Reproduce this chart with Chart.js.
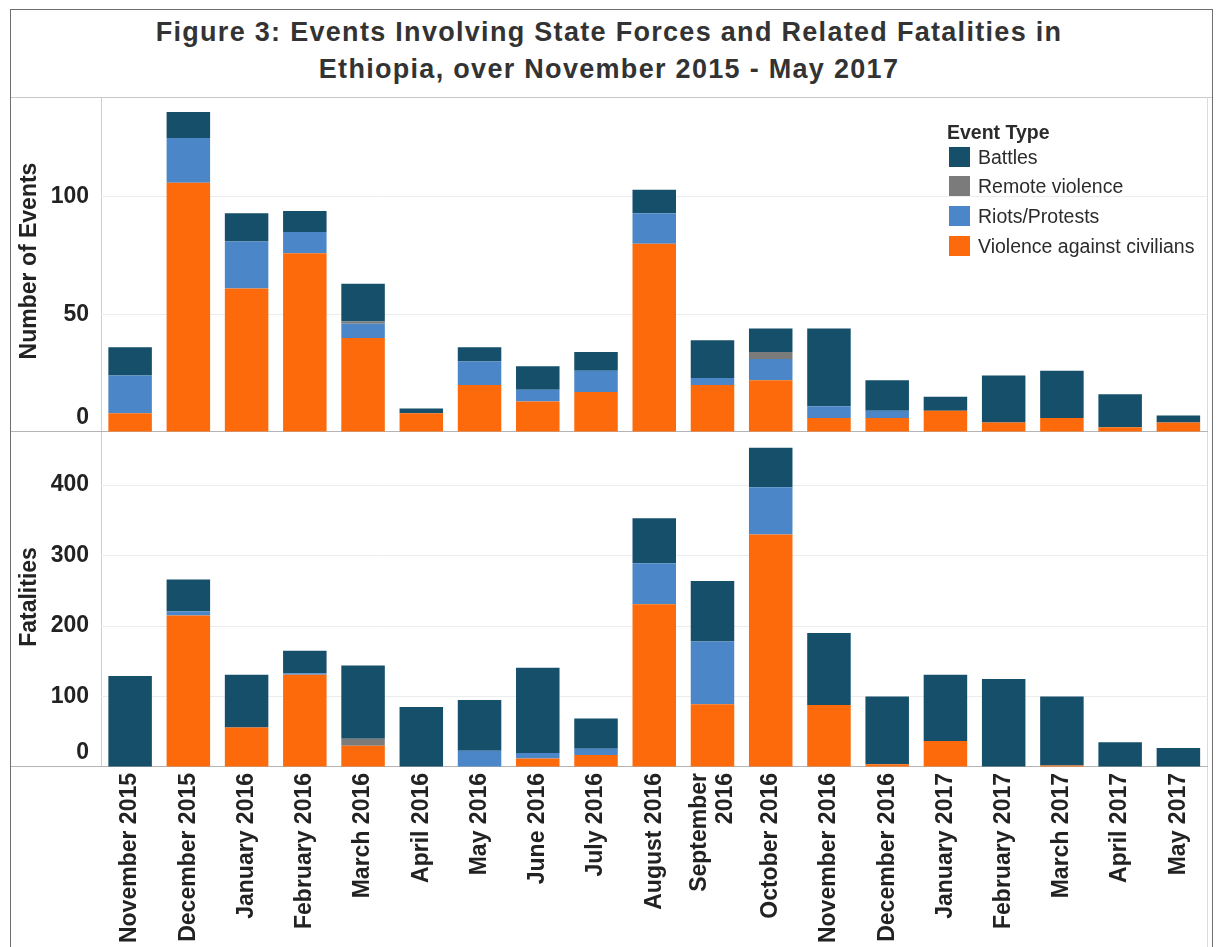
<!DOCTYPE html>
<html>
<head>
<meta charset="utf-8">
<script src="https://cdn.jsdelivr.net/npm/chart.js@4.4.0/dist/chart.umd.min.js"></script>
<style>
  body { margin:0; width:1221px; height:947px; overflow:hidden; background:#fff; position:relative;
         font-family:"Liberation Sans", Arial, sans-serif; color:#333; }
  .abs { position:absolute; }
  .title { left:8px; width:1202px; text-align:center; font-size:27px; font-weight:bold; line-height:30px;
           letter-spacing:1.3px; color:#333; white-space:nowrap; }
  .sw { position:absolute; width:21px; height:20px; left:949px; }
  .lt { position:absolute; left:978px; font-size:19.5px; line-height:22px; color:#2b2b2b; white-space:nowrap; }
  canvas { position:absolute; left:0; }
</style>
</head>
<body>

<!-- frame -->
<div class="abs" style="left:10px;top:9px;width:1203px;height:960px;border:1.5px solid #6e6e6e;box-sizing:border-box;"></div>
<div class="abs" style="left:11px;top:97px;width:1201px;height:1px;background:#c8c8c8;"></div>
<div class="abs" style="left:1207px;top:97px;width:1px;height:850px;background:#dadada;"></div>
<div class="abs" style="left:101px;top:97px;width:1px;height:670px;background:#cfcfcf;"></div>
<div class="abs" style="left:11px;top:431px;width:1197px;height:1px;background:#b4b4b4;"></div>
<div class="abs" style="left:11px;top:766px;width:1197px;height:1px;background:#b4b4b4;"></div>

<div class="abs title" style="top:17px;">Figure 3: Events Involving State Forces and Related Fatalities in</div>
<div class="abs title" style="top:54px;">Ethiopia, over November 2015 - May 2017</div>

<canvas id="eventsChart" width="1221" height="335" style="top:97px;"></canvas>
<canvas id="fatalChart" width="1221" height="515" style="top:432px;"></canvas>

<div id="legend"></div>

<script>
var months = ['November 2015','December 2015','January 2016','February 2016','March 2016','April 2016',
  'May 2016','June 2016','July 2016','August 2016',['September','2016'],'October 2016','November 2016',
  'December 2016','January 2017','February 2017','March 2017','April 2017','May 2017'];

var seriesNames = ['Violence against civilians','Riots/Protests','Remote violence','Battles'];
var seriesColors = ['#fd6a0b','#4b87c8','#7b7b7b','#154f6a'];

// number of events
var eventsCivilians = [8,106,61,76,40,8,20,13,17,80,20,22,6,6,9,4,6,2,4];
var eventsRiots     = [16,19,20,9,6,0,10,5,9,13,3,9,5,3,0,0,0,0,0];
var eventsRemote    = [0,0,0,0,1,0,0,0,0,0,0,3,0,0,0,0,0,0,0];
var eventsBattles   = [12,11,12,9,16,2,6,10,8,10,16,10,33,13,6,20,20,14,3];

// fatalities
var fatalCivilians = [0,215,56,131,30,0,0,12,17,231,89,330,88,4,37,0,2,0,0];
var fatalRiots     = [0,6,0,2,0,0,23,8,9,58,89,67,0,0,0,0,0,0,0];
var fatalRemote    = [0,0,0,0,10,0,0,0,0,0,0,0,0,0,0,0,0,0,0];
var fatalBattles   = [129,45,75,32,104,85,72,121,43,64,86,56,102,96,94,125,98,35,27];

var eventsTicks = [0,50,100];
var fatalTicks = [0,100,200,300,400];

var FONT = '"Liberation Sans", Arial, sans-serif';

// legend, top to bottom = reverse of stack order
var legendHtml = '<div class="lt" style="top:121px;left:947px;font-weight:bold;">Event Type</div>';
var tops = [147,176,206,236];
for (var i = 0; i < 4; i++) {
  var k = 3 - i;
  legendHtml += '<div class="sw" style="top:' + tops[i] + 'px;background:' + seriesColors[k] + ';"></div>';
  legendHtml += '<div class="lt" style="top:' + (tops[i] - 1) + 'px;">' + seriesNames[k] + '</div>';
}
document.getElementById('legend').innerHTML = legendHtml;

function makeDatasets(list) {
  return list.map(function(d, i){
    return { label: seriesNames[i], data: d, backgroundColor: seriesColors[i], borderWidth: 0,
             barPercentage: 0.747, categoryPercentage: 1.0 };
  });
}

// draws tick labels, axis title and (optionally) month labels
function labelsPlugin(title, ticks, titleShift, showMonths) {
  return {
    id: 'panelLabels',
    afterDraw: function(chart) {
      var ctx = chart.ctx, area = chart.chartArea;
      var ys = chart.scales.y, xs = chart.scales.x;
      ctx.save();
      ctx.fillStyle = '#222';
      ctx.font = 'bold 23px ' + FONT;
      ctx.textAlign = 'right';
      ctx.textBaseline = 'middle';
      ticks.forEach(function(v){
        var py = Math.min(ys.getPixelForValue(v), area.bottom - 14);
        ctx.fillText(String(v), area.left - 12, py);
      });

      ctx.save();
      ctx.translate(30, (area.top + area.bottom) / 2 + titleShift);
      ctx.rotate(-Math.PI / 2);
      ctx.textAlign = 'center';
      ctx.fillText(title, 0, 0);
      ctx.restore();

      if (showMonths) {
        var lh = 26;
        months.forEach(function(m, i){
          var lines = Array.isArray(m) ? m : [m];
          var px = xs.getPixelForValue(i);
          lines.forEach(function(line, j){
            ctx.save();
            ctx.translate(px + (j - (lines.length - 1) / 2) * lh, area.bottom + 6);
            ctx.rotate(-Math.PI / 2);
            ctx.textAlign = 'right';
            ctx.fillText(line, 0, 0);
            ctx.restore();
          });
        });
      }
      ctx.restore();
    }
  };
}

function makeOptions(maxVal, ticks, showX) {
  var xScale = {
    stacked: true,
    display: showX,
    grid: { display: false },
    border: { display: false },
    ticks: { display: false }
  };
  if (showX) xScale.afterFit = function(s){ s.height = 180; };
  return {
    responsive: false,
    animation: false,
    layout: { padding: { left: 0, right: 13.5, top: 1, bottom: 0 } },
    plugins: { legend: { display: false }, tooltip: { enabled: false } },
    scales: {
      x: xScale,
      y: {
        stacked: true,
        min: 0,
        max: maxVal,
        border: { display: false },
        grid: {
          drawTicks: false,
          color: function(c){ return c.tick && c.tick.value === 0 ? 'rgba(0,0,0,0)' : '#ececec'; }
        },
        ticks: { display: false },
        afterBuildTicks: function(s){ s.ticks = ticks.map(function(v){ return { value: v }; }); },
        afterFit: function(s){ s.width = 101; }
      }
    }
  };
}

new Chart(document.getElementById('eventsChart').getContext('2d'), {
  type: 'bar',
  data: { labels: months, datasets: makeDatasets([eventsCivilians, eventsRiots, eventsRemote, eventsBattles]) },
  options: makeOptions(142, eventsTicks, false),
  plugins: [labelsPlugin('Number of Events', eventsTicks, -4, false)]
});

new Chart(document.getElementById('fatalChart').getContext('2d'), {
  type: 'bar',
  data: { labels: months, datasets: makeDatasets([fatalCivilians, fatalRiots, fatalRemote, fatalBattles]) },
  options: makeOptions(474, fatalTicks, true),
  plugins: [labelsPlugin('Fatalities', fatalTicks, -3, true)]
});
</script>
</body>
</html>
